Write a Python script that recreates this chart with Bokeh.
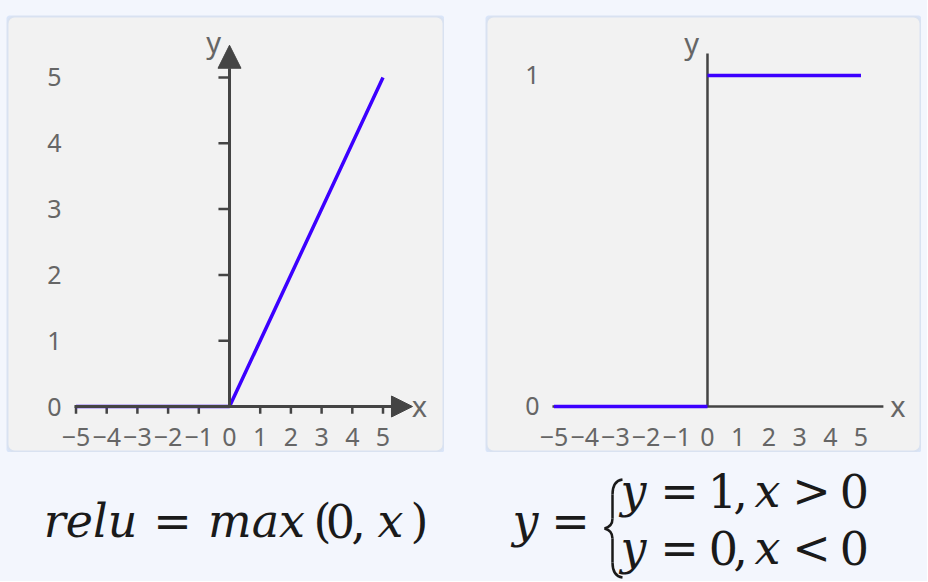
from bokeh.plotting import figure
from bokeh.models import Range1d, BoxAnnotation, Arrow, NormalHead, Spacer
from bokeh.layouts import column, row
from bokeh.core.properties import value
from bokeh.embed import file_html
from bokeh.resources import INLINE

# ---------------- data ----------------
x_ticks = [-5, -4, -3, -2, -1, 0, 1, 2, 3, 4, 5]
x_tick_labels = ["\u22125", "\u22124", "\u22123", "\u22122", "\u22121", "0", "1", "2", "3", "4", "5"]

relu_y_ticks = [0, 1, 2, 3, 4, 5]
relu_y_tick_labels = ["0", "1", "2", "3", "4", "5"]
relu_x = [-5, 0, 5]
relu_y = [0, 0, 5]

step_y_ticks = [0, 1]
step_y_tick_labels = ["0", "1"]
step_left_x = [-5, 0]
step_left_y = [0, 0]
step_right_x = [0, 5]
step_right_y = [1, 1]

# ---------------- style ----------------
PAGE_BG = "#f3f6fd"
PANEL_BG = "#f2f2f2"
PANEL_BORDER = "#a0bcf0"
AXIS = "#444444"
LINE = "#3c00ff"
LABEL = "#666666"
FORM = "#1a1a1a"
TICK_FONT = value("Noto Sans")
TICK_SIZE = value("25px")
NAME_SIZE = value("29px")


def panel(w, xr, yr):
    p = figure(width=w, height=437, x_range=Range1d(*xr), y_range=Range1d(*yr),
               output_backend="svg", toolbar_location=None, min_border=0,
               x_axis_location=None, y_axis_location=None,
               background_fill_color=PAGE_BG, border_fill_color=PAGE_BG,
               outline_line_color=None)
    p.grid.grid_line_color = None
    p.add_layout(BoxAnnotation(fill_color=PANEL_BG, fill_alpha=1.0,
                               line_color=PANEL_BORDER, line_width=4,
                               border_radius=8, level="underlay"))
    return p


# ---------------- left: ReLU ----------------
p1 = panel(438, (-7.264, 7.003), (-0.699, 5.942))
p1.add_layout(Arrow(end=NormalHead(size=21, fill_color=AXIS, line_color=AXIS, line_width=1),
                    x_start=-5.05, y_start=0, x_end=5.96, y_end=0,
                    line_color=AXIS, line_width=3))
p1.add_layout(Arrow(end=NormalHead(size=23, fill_color=AXIS, line_color=AXIS, line_width=1),
                    x_start=0, y_start=0, x_end=0, y_end=5.49,
                    line_color=AXIS, line_width=3))
yt = [t for t in relu_y_ticks if t != 0]
p1.segment(x0=[-0.36] * len(yt), y0=yt, x1=[0] * len(yt), y1=yt,
           line_color=AXIS, line_width=2.5)
xt = [t for t in x_ticks if t != 0]
p1.segment(x0=xt, y0=[0] * len(xt), x1=xt, y1=[-0.11] * len(xt),
           line_color=AXIS, line_width=2.5)
p1.line(relu_x, relu_y, line_color=LINE, line_width=3.5)
p1.text(x=[-5.70] * len(relu_y_ticks), y=relu_y_ticks, text=relu_y_tick_labels,
        text_font=TICK_FONT, text_font_size=TICK_SIZE, text_color=LABEL,
        text_align="center", text_baseline="middle")
p1.text(x=x_ticks, y=[-0.47] * len(x_ticks), text=x_tick_labels,
        text_font=TICK_FONT, text_font_size=TICK_SIZE, text_color=LABEL,
        text_align="center", text_baseline="middle")
p1.text(x=[-0.52, 6.19], y=[5.55, 0.02], text=["y", "x"],
        text_font=TICK_FONT, text_font_size=NAME_SIZE, text_color=LABEL,
        text_align="center", text_baseline="middle")

# ---------------- right: step ----------------
p2 = panel(436, (-7.231, 6.971), (-0.139, 1.181))
p2.segment(x0=[-5.05], y0=[0], x1=[5.73], y1=[0], line_color=AXIS, line_width=2.5)
p2.segment(x0=[0], y0=[0], x1=[0], y1=[1.066], line_color=AXIS, line_width=2.5)
p2.line(step_left_x, step_left_y, line_color=LINE, line_width=3.5)
p2.line(step_right_x, step_right_y, line_color=LINE, line_width=3.5)
p2.text(x=[-5.70] * len(step_y_ticks), y=step_y_ticks, text=step_y_tick_labels,
        text_font=TICK_FONT, text_font_size=TICK_SIZE, text_color=LABEL,
        text_align="center", text_baseline="middle")
p2.text(x=x_ticks, y=[-0.093] * len(x_ticks), text=x_tick_labels,
        text_font=TICK_FONT, text_font_size=TICK_SIZE, text_color=LABEL,
        text_align="center", text_baseline="middle")
p2.text(x=[-0.52, 6.2], y=[1.10, 0.003], text=["y", "x"],
        text_font=TICK_FONT, text_font_size=NAME_SIZE, text_color=LABEL,
        text_align="center", text_baseline="middle")

# ---------------- formulas ----------------
p3 = figure(width=927, height=129, x_range=Range1d(0, 927), y_range=Range1d(0, 129),
            output_backend="svg", toolbar_location=None, min_border=0,
            x_axis_location=None, y_axis_location=None,
            background_fill_color=PAGE_BG, border_fill_color=PAGE_BG,
            outline_line_color=None)
p3.grid.grid_line_color = None

FS = value("46px")
SERIF = value("DejaVu Serif")
TOP = 452      # page y of the formula strip's top edge
TEXT_FIX = 18  # rendered text sits this much lower than its anchor


def fy(page_y):
    return 129 - (page_y - TOP)


def ft(page_y):
    return fy(page_y - TEXT_FIX)


italic_tokens = ["relu", "max", "x", "y", "y", "x", "y", "x"]
italic_x = [90, 256, 390, 525, 633, 767, 633, 767]
italic_py = [538, 538, 538, 538, 508, 508, 565, 565]
upright_tokens = ["=", "(", "0", ",", ")", "=", "=", "1", ",", ">", "0", "=", "0", ",", "<", "0"]
upright_x = [172, 322, 340, 358, 419, 570, 679, 722, 740, 811, 854, 679, 723, 740, 811, 854]
upright_py = [538, 538, 538, 538, 538, 538, 508, 508, 508, 508, 508, 565, 565, 565, 565, 565]

p3.text(x=italic_x, y=[ft(v) for v in italic_py], text=italic_tokens, text_font=SERIF,
        text_font_size=FS, text_font_style="italic", text_color=FORM, text_align="center",
        text_baseline="alphabetic")
p3.text(x=upright_x, y=[ft(v) for v in upright_py], text=upright_tokens, text_font=SERIF,
        text_font_size=FS, text_color=FORM, text_align="center", text_baseline="alphabetic")

# curly brace, page coordinates
segs = [((622, 479), (612, 494), (615, 480), (612, 486)),
        ((612, 494), (612, 518), (612, 500), (612, 512)),
        ((612, 518), (604, 528), (612, 524), (608, 527)),
        ((604, 528), (612, 538), (608, 529), (612, 532)),
        ((612, 538), (612, 562), (612, 544), (612, 556)),
        ((612, 562), (622, 577), (612, 570), (615, 576))]
p3.bezier(x0=[s[0][0] for s in segs], y0=[fy(s[0][1]) for s in segs],
          x1=[s[1][0] for s in segs], y1=[fy(s[1][1]) for s in segs],
          cx0=[s[2][0] for s in segs], cy0=[fy(s[2][1]) for s in segs],
          cx1=[s[3][0] for s in segs], cy1=[fy(s[3][1]) for s in segs],
          line_color=FORM, line_width=2.5)

layout = column(Spacer(height=15, width=927),
                row(Spacer(width=6, height=437), p1, Spacer(width=41, height=437), p2,
                    Spacer(width=6, height=437), spacing=0),
                p3, spacing=0, styles={"background-color": PAGE_BG})

open("out.html", "w").write(file_html(layout, INLINE))
